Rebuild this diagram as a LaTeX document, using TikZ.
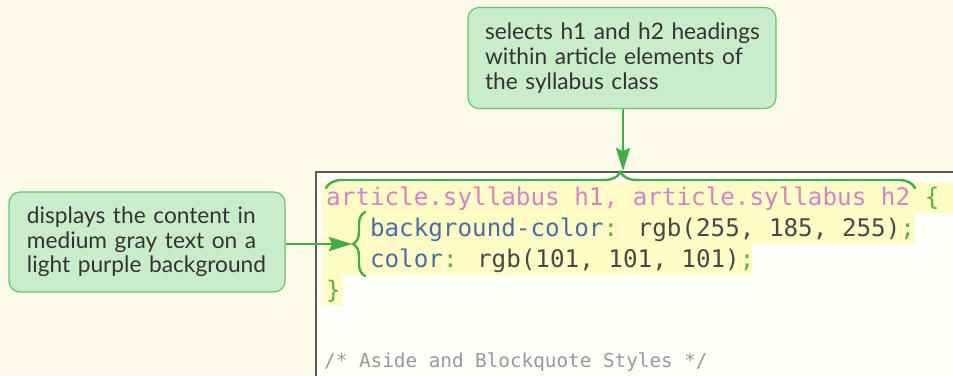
\documentclass[tikz,border=0pt]{standalone}
\usepackage{fontspec}
\setmainfont{Lato}
\newfontfamily\codefont{DejaVu Sans Mono}
\usetikzlibrary{arrows.meta,decorations.pathreplacing}

\definecolor{pagebg}{HTML}{FCFAE8}
\definecolor{codebg}{HTML}{FEFEFB}
\definecolor{hilite}{HTML}{FFFCC6}
\definecolor{notefill}{HTML}{C9EDCA}
\definecolor{noteline}{HTML}{6CC36E}
\definecolor{notetext}{HTML}{333333}
\definecolor{linkgreen}{HTML}{42AE46}
\definecolor{boxline}{HTML}{5A5A5A}
\definecolor{csssel}{HTML}{D483C9}
\definecolor{cssprop}{HTML}{4B6CA6}
\definecolor{cssval}{HTML}{484848}
\definecolor{csspunct}{HTML}{5DB33A}
\definecolor{csscomment}{HTML}{9A9A9A}

\tikzset{
  note/.style={draw=noteline, line width=1.2pt, fill=notefill, rounded corners=11pt,
    text=notetext, align=left, inner ysep=0pt,
    font=\fontsize{22.7}{24.7}\selectfont},
  codeline/.style={anchor=base west, inner sep=0pt,
    font=\codefont\fontsize{24.25}{31}\selectfont},
  link/.style={draw=linkgreen, line width=2.4pt,
    -{Stealth[length=23pt,width=14pt,inset=3pt]}},
  bracemark/.style={draw=linkgreen, line width=2.4pt, line cap=round,
    decorate, decoration={brace}},
}
\newcommand{\sel}[1]{\textcolor{csssel}{#1}}
\newcommand{\prop}[1]{\textcolor{cssprop}{#1}}
\newcommand{\val}[1]{\textcolor{cssval}{#1}}
\newcommand{\pun}[1]{\textcolor{csspunct}{#1}}

\begin{document}
\begin{tikzpicture}[x=1pt,y=-1pt]
  \useasboundingbox (0,0) rectangle (953,375);
  \fill[pagebg] (0,0) rectangle (953,375);

  % code panel
  \fill[codebg] (316,172) rectangle (953,375);
  \fill[hilite] (322,182) rectangle (953,213);
  \fill[hilite] (322,213) rectangle (915,244);
  \fill[hilite] (322,244) rectangle (752,275);
  \fill[hilite] (322,275) rectangle (343,306);
  \draw[boxline, line width=1.5pt] (316,376) -- (316,172) -- (954,172);

  \node[codeline] (l1) at (326,205)
    {\sel{article.syllabus h1, article.syllabus h2} \pun{\{}};
  \node[codeline] (l2) at (326,236)
    {\hphantom{xxx}\prop{background-color}\pun{:} \val{rgb(255, 185, 255)}\pun{;}};
  \node[codeline] (l3) at (326,267)
    {\hphantom{xxx}\prop{color}\pun{:} \val{rgb(101, 101, 101)}\pun{;}};
  \node[codeline] (l4) at (326,298) {\pun{\}}};
  \node[codeline, font=\codefont\fontsize{19.3}{24}\selectfont] (l6) at (324,367)
    {\textcolor{csscomment}{/* Aside and Blockquote Styles */}};

  % braces marking the selector and the declarations
  \draw[bracemark, decoration={amplitude=16pt}] (326,188) -- (915,188);
  \coordinate (seltip) at (623,171);
  \draw[bracemark, decoration={amplitude=12pt}] (365,276) -- (365,212);
  \coordinate (decltip) at (352,244);

  % callouts
  \node[note, minimum width=308pt, minimum height=101pt,
        text width=274pt, inner xsep=17pt] (selnote) at (622,58)
    {\mbox{selects h1 and h2 headings}\\ \mbox{within article elements of}\\ \mbox{the syllabus class}};
  \node[note, minimum width=276pt, minimum height=100pt,
        text width=240pt, inner xsep=18pt] (declnote) at (147,242)
    {\mbox{displays the content in}\\ \mbox{medium gray text on a}\\ \mbox{light purple background}};

  \draw[link] (selnote.south -| seltip) -- (seltip);
  \draw[link] (declnote.east |- decltip) -- (decltip);
\end{tikzpicture}
\end{document}
